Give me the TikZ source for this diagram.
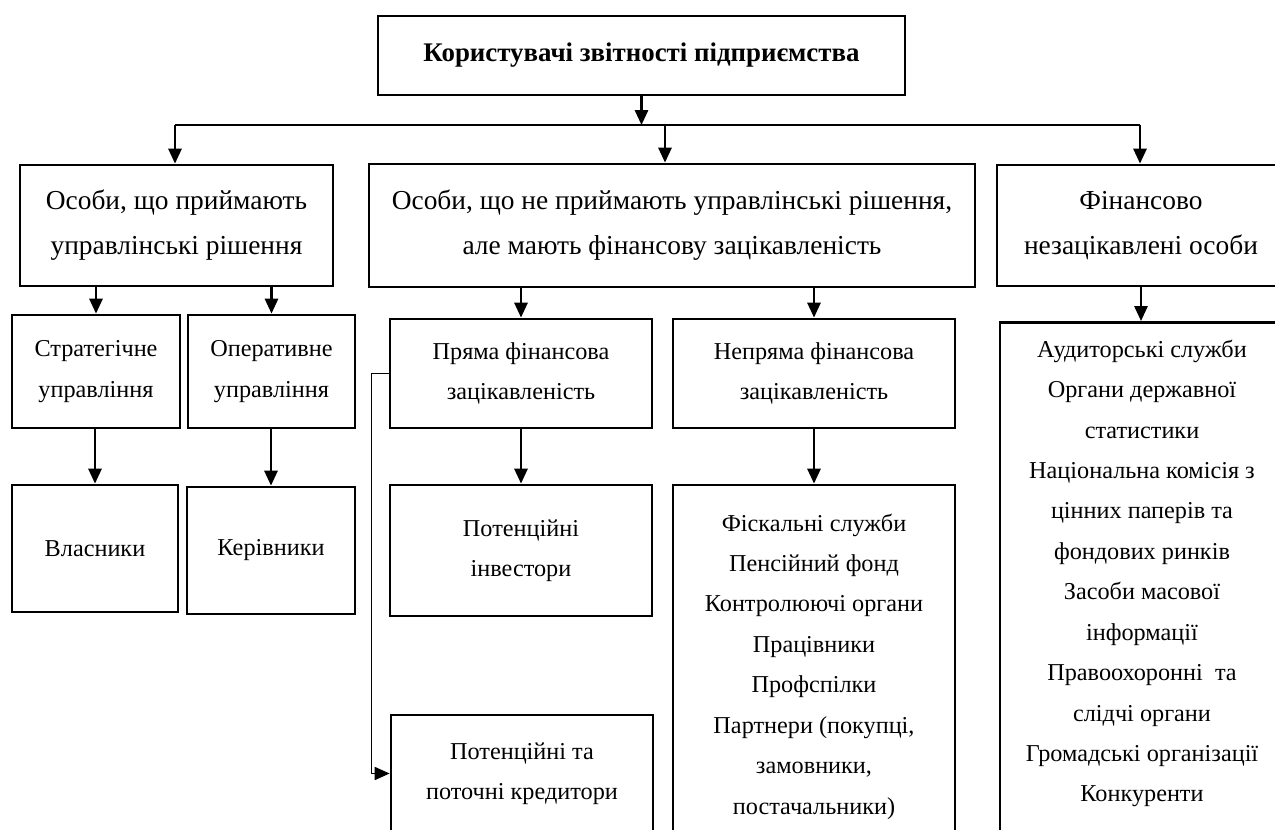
\documentclass[tikz,border=0pt]{standalone}
\usepackage{fontspec}
\setmainfont{Liberation Serif}
\usetikzlibrary{arrows.meta}

\tikzset{
  block/.style={draw,line width=1.6pt,align=center,inner sep=0pt},
  bigtext/.style={font=\fontsize{15.6}{25.5}\selectfont},
  smalltext/.style={font=\fontsize{13.8}{23}\selectfont},
  link/.style={line width=1.3pt,-{Triangle[width=7.5pt,length=8.5pt]}},
  thinlink/.style={line width=0.6pt,-{Triangle[width=7.5pt,length=8.5pt]}},
  wh/.style 2 args={minimum width=#1*0.02cm,minimum height=#2*0.02cm}
}

\begin{document}
\begin{tikzpicture}[x=0.02cm,y=-0.02cm]
  \useasboundingbox (0,0) rectangle (1275,829);

  \node[block,wh={527}{79},font=\fontsize{15.3}{20}\selectfont\bfseries] (top) at (641.5,55.5)
    {Користувачі звітності підприємства};

  % first level
  \node[block,bigtext,wh={313}{121}] (dec) at (176.5,225.5)
    {Особи, що приймають\\управлінські рішення};
  \node[block,bigtext,wh={606}{123}] (fin) at (672,225.5)
    {Особи, що не приймають управлінські рішення,\\але мають фінансову зацікавленість};
  \node[block,bigtext,wh={288}{121}] (nofin) at (1141,225.5)
    {Фінансово\\незацікавлені особи};

  \coordinate (hl) at (175,125);
  \coordinate (hr) at (1140,125);
  \draw[line width=1.3pt] (hl) -- (hr);
  \draw[link] (top.south) -- (top.south |- hl);
  \draw[link] (hl) -- (hl |- dec.north);
  \draw[link] (fin.north -| 665,0) ++(0,-39) -- (fin.north -| 665,0);
  \draw[link] (hr) -- (hr |- nofin.north);

  % left column
  \begin{scope}[smalltext]
    \node[block,wh={168}{113}] (strat) at (96,371.5) {Стратегічне\\управління};
    \node[block,wh={167}{113}] (oper) at (271.5,371.5) {Оперативне\\управління};
    \node[block,wh={166}{127}] (own) at (95,548.5) {Власники};
    \node[block,wh={168}{127}] (mng) at (271,550.5) {Керівники};
  \end{scope}

  \draw[link] (strat.north |- dec.south) -- (strat.north);
  \draw[link] (oper.north |- dec.south) -- (oper.north);
  \draw[link] (strat.south -| own.north) -- (own.north);
  \draw[link] (oper.south -| mng.north) -- (mng.north);

  % middle column
  \begin{scope}[smalltext]
    \node[block,wh={262}{109}] (dir) at (521,373.5) {Пряма фінансова\\зацікавленість};
    \node[block,wh={282}{109}] (indir) at (814,373.5) {Непряма фінансова\\зацікавленість};
    \node[block,wh={262}{131}] (inv) at (521,550.5) {Потенційні\\інвестори};
    \node[block,wh={262}{117}] (cred) at (522,773.5) {Потенційні та\\поточні кредитори};
    \node[block,wh={282}{363}] (oth) at (814,666.5)
      {Фіскальні служби\\Пенсійний фонд\\Контролюючі органи\\Працівники\\Профспілки\\
       Партнери (покупці,\\замовники,\\постачальники)};
  \end{scope}

  \draw[link] (dir.north |- fin.south) -- (dir.north);
  \draw[link] (indir.north |- fin.south) -- (indir.north);
  \draw[link] (dir.south) -- (inv.north);
  \draw[link] (indir.south) -- (oth.north);
  \draw[thinlink] (dir.west) -- ++(-17,0) |- (cred.west);

  % right column
  \node[block,wh={285}{560},anchor=north] (ext) at (1142.5,321) {};
  \node[smalltext,align=center] (exttxt) at (1142,573.5)
    {Аудиторські служби\\Органи державної\\статистики\\Національна комісія з\\
     цінних паперів та\\фондових ринків\\Засоби масової\\інформації\\
     Правоохоронні~ та\\слідчі органи\\Громадські організації\\Конкуренти};

  \draw[link] (nofin.south) -- (nofin.south |- ext.north);
\end{tikzpicture}
\end{document}
